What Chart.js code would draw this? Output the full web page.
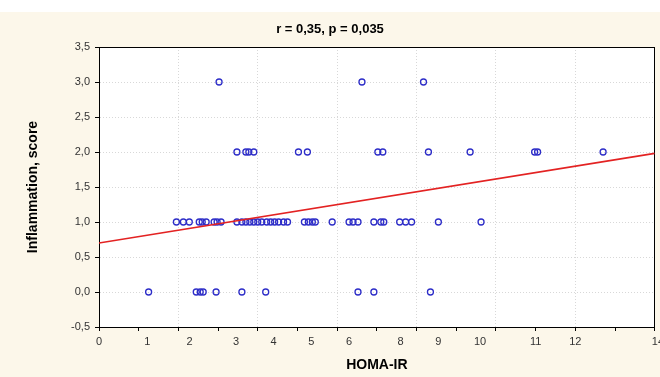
<!DOCTYPE html>
<html>
<head>
<meta charset="utf-8">
<script src="https://cdn.jsdelivr.net/npm/chart.js@4.4.1/dist/chart.umd.min.js"></script>
<style>
	body { margin: 0; background: #ffffff; }
	#wrap { width: 660px; height: 377px; }
	#grHoma { background: linear-gradient(#ffffff 0, #ffffff 12px, #fcf7ea 12px); }
</style>
</head>
<body>
<div id="wrap"><canvas id="grHoma" width="660" height="377"></canvas></div>
<script>
// HOMA-IR vs inflammation score
var homaScore0 = [1.25, 2.45, 2.55, 2.625, 2.95, 3.6, 4.2, 6.525, 6.925, 8.35];
var homaScore1 = [1.95, 2.125, 2.275, 2.525, 2.6, 2.7, 2.9, 2.975, 3.075, 3.475, 3.6, 3.7, 3.8, 3.9,
	4.0, 4.1, 4.225, 4.325, 4.425, 4.525, 4.65, 4.75, 5.175, 5.275, 5.375, 5.45, 5.875, 6.3, 6.4,
	6.525, 6.925, 7.1, 7.175, 7.575, 7.725, 7.875, 8.55, 9.625];
var homaScore2 = [3.475, 3.7, 3.775, 3.9, 5.025, 5.25, 7.025, 7.15, 8.3, 9.35, 10.975, 11.05, 12.7];
var homaScore3 = [3.025, 6.625, 8.175];

// regression line ends
var fitX = [0, 14];
var fitY = [0.70, 1.98];

// x tick labels and where they sit on the axis
var xLabelText = ['0', '1', '2', '3', '4', '5', '6', '8', '9', '10', '11', '12', '14'];
var xLabelAt = [0, 1.22, 2.28, 3.45, 4.4, 5.35, 6.3, 7.6, 8.55, 9.6, 11, 12, 14.08];

var points = [];
function addRow(arr, score) {
	for (var i = 0; i < arr.length; i++) {
		points.push({x: arr[i], y: score});
	}
}
addRow(homaScore0, 0);
addRow(homaScore1, 1);
addRow(homaScore2, 2);
addRow(homaScore3, 3);

var fitLine = [];
for (var i = 0; i < fitX.length; i++) {
	fitLine.push({x: fitX[i], y: fitY[i]});
}

var plotBg = {
	id: 'plotBg',
	beforeDraw: function(chart) {
		var a = chart.chartArea;
		var c = chart.ctx;
		c.save();
		c.fillStyle = '#ffffff';
		c.fillRect(a.left, a.top, a.right - a.left, a.bottom - a.top);
		c.restore();
	}
};

var tickFont = {family: 'Arial, "Liberation Sans", sans-serif', size: 11};

var config = {
	type: 'scatter',
	data: {
		datasets: [{
			label: 'Inflammation',
			data: points,
			pointStyle: 'circle',
			pointRadius: 3,
			pointBorderWidth: 1.3,
			borderColor: '#2e2ec8',
			backgroundColor: 'rgba(0,0,0,0)',
			order: 2
		}, {
			type: 'line',
			label: 'fit',
			data: fitLine,
			borderColor: '#e32222',
			borderWidth: 1.6,
			pointRadius: 0,
			fill: false,
			order: 1
		}]
	},
	options: {
		responsive: false,
		animation: false,
		layout: {padding: 0},
		plugins: {
			legend: {display: false},
			tooltip: {enabled: false},
			title: {
				display: true,
				text: 'r = 0,35, p = 0,035',
				color: '#000000',
				font: {family: 'Arial, "Liberation Sans", sans-serif', size: 13, weight: 'bold'},
				padding: {top: 22, bottom: 9.4}
			}
		},
		scales: {
			x: {
				type: 'linear',
				position: 'bottom',
				min: 0,
				max: 14,
				afterBuildTicks: function(scale) {
					var ticks = [];
					for (var v = 0; v <= 14; v++) {
						ticks.push({value: v, text: '', grid: true});
					}
					for (var j = 0; j < xLabelAt.length; j++) {
						var found = null;
						for (var k = 0; k < ticks.length; k++) {
							if (Math.abs(ticks[k].value - xLabelAt[j]) < 0.001) found = ticks[k];
						}
						if (found) {
							found.text = xLabelText[j];
						} else {
							ticks.push({value: xLabelAt[j], text: xLabelText[j], grid: false});
						}
					}
					ticks.sort(function(a, b) { return a.value - b.value; });
					scale.ticks = ticks;
				},
				afterFit: function(scale) {
					scale.height = 50;
					scale.paddingLeft = 0;
					scale.paddingRight = 0;
				},
				ticks: {
					autoSkip: false,
					maxRotation: 0,
					padding: 4,
					color: '#333333',
					font: tickFont,
					callback: function(value, index, ticks) {
						return ticks[index].text;
					}
				},
				grid: {
					color: function(ctx) {
						var t = ctx.tick;
						if (t && t.grid && t.value % 2 === 0 && t.value > 0 && t.value < 14) return '#d8d8d8';
						return 'rgba(0,0,0,0)';
					},
					tickColor: function(ctx) {
						var t = ctx.tick;
						if (t && t.grid) return '#000000';
						return 'rgba(0,0,0,0)';
					},
					tickLength: 4
				},
				border: {display: true, color: '#000000', width: 1, dash: [1, 2]},
				title: {
					display: true,
					text: 'HOMA-IR',
					color: '#000000',
					font: {family: 'Arial, "Liberation Sans", sans-serif', size: 14, weight: 'bold'},
					padding: {top: 0, bottom: 3.6}
				}
			},
			xTop: {
				type: 'linear',
				position: 'top',
				min: 0,
				max: 14,
				ticks: {display: false},
				grid: {display: false},
				border: {display: true, color: '#000000', width: 1},
				afterFit: function(scale) {
					scale.height = 0;
					scale.paddingLeft = 0;
					scale.paddingRight = 0;
				}
			},
			y: {
				type: 'linear',
				position: 'left',
				min: -0.5,
				max: 3.5,
				ticks: {
					stepSize: 0.5,
					padding: 5,
					color: '#333333',
					font: tickFont,
					callback: function(value) {
						return value.toFixed(1).replace('.', ',');
					}
				},
				grid: {
					color: function(ctx) {
						var t = ctx.tick;
						if (t && t.value > -0.5 && t.value < 3.5) return '#d8d8d8';
						return 'rgba(0,0,0,0)';
					},
					tickColor: '#000000',
					tickLength: 4
				},
				border: {display: true, color: '#000000', width: 1, dash: [1, 2]},
				afterFit: function(scale) {
					scale.width = 99;
				},
				title: {
					display: true,
					text: 'Inflammation, score',
					color: '#000000',
					font: {family: 'Arial, "Liberation Sans", sans-serif', size: 14, weight: 'bold'},
					padding: {top: 25, bottom: 0}
				}
			},
			yRight: {
				type: 'linear',
				position: 'right',
				min: -0.5,
				max: 3.5,
				ticks: {display: false},
				grid: {display: false},
				border: {display: true, color: '#000000', width: 1},
				afterFit: function(scale) {
					scale.width = 1;
				}
			}
		}
	},
	plugins: [plotBg]
};

var ctxH = document.getElementById('grHoma').getContext('2d');
window.myScatter = new Chart(ctxH, config);
</script>
</body>
</html>
